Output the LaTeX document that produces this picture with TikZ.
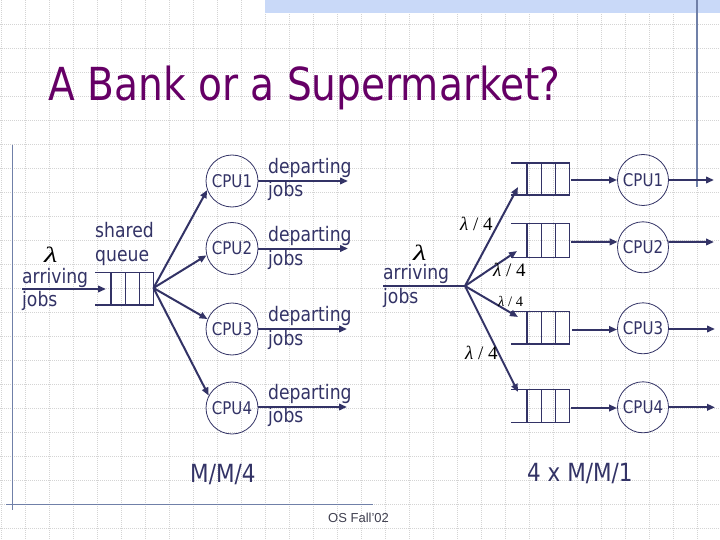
\documentclass[tikz,border=0pt]{standalone}
\usepackage{fontspec}
\setmainfont{DejaVu Sans}[FakeStretch=0.86]
\newfontfamily\osfont{Liberation Sans}
\newfontfamily\tnr{Liberation Serif}
\usetikzlibrary{arrows.meta}
\definecolor{navy}{RGB}{51,51,102}
\definecolor{ttl}{RGB}{102,0,102}
\definecolor{gridc}{RGB}{212,212,212}
\definecolor{banner}{RGB}{201,217,248}
\definecolor{rulec}{RGB}{112,128,168}
\definecolor{footc}{RGB}{64,64,80}
\tikzset{
  conn/.style={draw=navy, line width=2pt, -{Triangle[length=8pt,width=6.5pt]}},
  plainconn/.style={draw=navy, line width=2pt},
  qline/.style={draw=navy, line width=1.3pt},
  cpu/.style={circle, draw=navy, line width=0.8pt, minimum size=52pt, inner sep=0pt, text=navy, font=\fontsize{17.5}{17.5}\selectfont},
  cpuR/.style={cpu, minimum size=51pt},
  lbl/.style={anchor=base west, inner sep=0pt, text=navy, font=\fontsize{20}{20}\selectfont},
  biglbl/.style={anchor=base west, inner sep=0pt, text=navy, font=\fontsize{25}{25}\selectfont},
  lam/.style={anchor=base west, inner sep=0pt, text=black, font=\fontsize{22}{22}\selectfont\tnr\itshape},
  frac/.style={anchor=base west, inner sep=0pt, text=black, font=\fontsize{19}{19}\selectfont\tnr},
  fracs/.style={frac, font=\fontsize{14.5}{14.5}\selectfont\tnr},
  rulel/.style={draw=rulec, line width=1.2pt},
  gridl/.style={draw=gridc, line width=0.6pt, dash pattern=on 1pt off 1pt}
}
\newcommand\myqueue[3]{%
  \draw[qline] (#1,#2) -- (#1+58.5,#2) -- (#1+58.5,#3) -- (#1,#3);
  \foreach \dx in {16,30.5,44.5} {\draw[qline] (#1+\dx,#2) -- (#1+\dx,#3);}
}
\begin{document}
\begin{tikzpicture}[x=1pt,y=-1pt]
\useasboundingbox (0,0) rectangle (720,540);
\fill[white] (0,0) rectangle (720,540);
% grid
\foreach \k in {0,...,29} {\draw[gridl] (1+24*\k,0) -- (1+24*\k,540);}
\foreach \k in {1,...,22} {\draw[gridl] (0,24*\k) -- (720,24*\k);}
% banner and rules
\fill[banner] (265,0) rectangle (720,13);
\draw[rulel] (697,0) -- (697,187);
\draw[rulel] (12.5,145) -- (12.5,510);
\draw[rulel] (6,504.3) -- (373,504.3);
% title
\node[anchor=base west, inner sep=0pt, text=ttl, font=\fontsize{45.5}{45.5}\selectfont] (title) at (48,101) {A Bank or a Supermarket?};

% ---------- left: M/M/4 ----------
\myqueue{95}{272.7}{305}
\coordinate (qL) at (153.5,288);
\coordinate (aL0) at (22,289);
\coordinate (aL1) at (106,289);
\draw[conn] (aL0) -- (aL1);
\node[lbl] (sh) at (95,237.3) {shared};
\node[lbl] (qu) at (95,261.5) {queue};
\node[lam] (lamL) at (44,262) {\scalebox{1.4}[1]{λ}};
\node[lbl] (arrL) at (22,283) {arriving};
\node[lbl] (jobL) at (22,306) {jobs};

\node[cpu] (c1) at (232,181) {CPU1};
\node[cpu] (c2) at (232,248.5) {CPU2};
\node[cpu] (c3) at (232,329) {CPU3};
\node[cpu] (c4) at (232,408) {CPU4};
\draw[conn] (qL) -- (c1.200);
\draw[conn] (qL) -- (c2.195);
\draw[conn] (qL) -- (c3.158);
\draw[conn] (qL) -- (c4.152);

\coordinate (d1) at (348,181);
\coordinate (d2) at (348,248.5);
\coordinate (d3) at (347,329);
\coordinate (d4) at (347,407);
\draw[conn] (c1.east) -- (d1);
\draw[conn] (c2.east) -- (d2);
\draw[conn] (c3.east) -- (d3);
\draw[conn] (c4.east |- d4) -- (d4);
\node[lbl] (dp1) at (268,174) {departing};
\node[lbl] (jb1) at (268,196.7) {jobs};
\node[lbl] (dp2) at (268,241.7) {departing};
\node[lbl] (jb2) at (268,265) {jobs};
\node[lbl] (dp3) at (268,321.7) {departing};
\node[lbl] (jb3) at (268,345) {jobs};
\node[lbl] (dp4) at (268,399.3) {departing};
\node[lbl] (jb4) at (268,422.7) {jobs};
\node[biglbl] (mm4) at (190,482.7) {M/M/4};

% ---------- right: 4 x M/M/1 ----------
\myqueue{511}{163}{195}
\myqueue{511}{223.3}{257.3}
\myqueue{511}{311.7}{344}
\myqueue{511}{389.3}{422.3}
\node[lam] (lamR) at (413,260) {\scalebox{1.4}[1]{λ}};
\node[lbl] (arrR) at (383,279.3) {arriving};
\node[lbl] (jobR) at (383,303.3) {jobs};
\coordinate (aR0) at (383,286);
\coordinate (fR) at (465,286);
\draw[plainconn] (aR0) -- (fR);
\coordinate (t1) at (518,187);
\coordinate (t2) at (517,251);
\coordinate (t3) at (518,317);
\coordinate (t4) at (518,392);
\draw[conn] (fR) -- (t1);
\draw[conn] (fR) -- (t2);
\draw[conn] (fR) -- (t3);
\draw[conn] (fR) -- (t4);
\node[frac] (f1) at (460,230) {\textit{λ} / 4};
\node[frac] (f2) at (493,276.7) {\textit{λ} / 4};
\node[fracs] (f3) at (498,306.7) {\textit{λ} / 4};
\node[frac] (f4) at (465,359.3) {\textit{λ} / 4};

\node[cpuR] (r1) at (643,180) {CPU1};
\node[cpuR] (r2) at (643,247.3) {CPU2};
\node[cpuR] (r3) at (643,328.3) {CPU3};
\node[cpuR] (r4) at (643,407.3) {CPU4};
\coordinate (q1e) at (571,180);
\coordinate (q2e) at (571,242);
\coordinate (q3e) at (572,329.5);
\coordinate (q4e) at (571,408);
\draw[conn] (q1e) -- (r1.west);
\draw[conn] (q2e) -- (r2.168);
\draw[conn] (q3e) -- (r3.west |- q3e);
\draw[conn] (q4e) -- (r4.west |- q4e);
\coordinate (o1) at (714,180);
\coordinate (o2) at (714,242);
\coordinate (o3) at (715,329);
\coordinate (o4) at (715,407.3);
\draw[conn] (r1.east) -- (o1);
\draw[conn] (r2.12) -- (o2);
\draw[conn] (r3.east |- o3) -- (o3);
\draw[conn] (r4.east) -- (o4);
\node[biglbl] (mm1) at (527,481.7) {4 x M/M/1};

% footer
\node[anchor=base west, inner sep=0pt, text=footc, font=\fontsize{13}{13}\selectfont\osfont] (foot) at (328,522) {OS Fall’02};
\end{tikzpicture}
\end{document}
